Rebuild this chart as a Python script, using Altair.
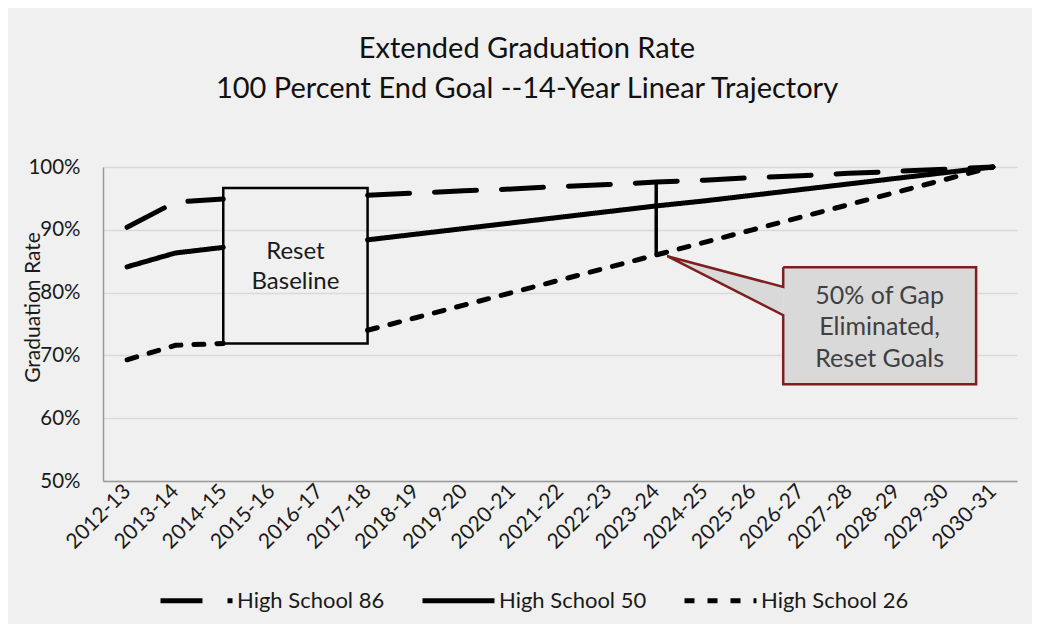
import altair as alt
import pandas as pd

# ---------------- data ----------------
years = ["2012-13", "2013-14", "2014-15", "2015-16", "2016-17", "2017-18",
         "2018-19", "2019-20", "2020-21", "2021-22", "2022-23", "2023-24",
         "2024-25", "2025-26", "2026-27", "2027-28", "2028-29", "2029-30",
         "2030-31"]

series_names = ["High School 86", "High School 50", "High School 26"]
hs86 = [90.4, 94.4, 94.9, None, None, 95.5, 95.85, 96.2, 96.5, 96.9, 97.2,
        97.6, 97.9, 98.3, 98.6, 99.0, 99.3, 99.65, 100.0]
hs50 = [84.1, 86.3, 87.2, None, None, 88.4, 89.3, 90.2, 91.1, 92.0, 92.9,
        93.8, 94.6, 95.5, 96.4, 97.3, 98.2, 99.1, 100.0]
hs26 = [69.3, 71.6, 71.9, None, None, 74.0, 76.0, 78.0, 80.0, 82.0, 84.0,
        86.0, 88.0, 90.0, 92.0, 94.0, 96.0, 98.0, 100.0]
series_values = [hs86, hs50, hs26]
dash_styles = [[42, 25], [1, 0], [10, 13]]

y_ticks = [50, 60, 70, 80, 90, 100]

# annotation: reset-baseline box (category index span, value span)
reset_x = [2, 5]
reset_y = [71.9, 96.65]
reset_lines = ["Reset", "Baseline"]

# annotation: gap bar at 2023-24
gap_year_index = 11
gap_y = [86.0, 97.6]

# annotation: callout box
callout_x = [13.64, 17.65]
callout_y = [65.4, 84.05]
callout_tip = [11.23, 85.8]
callout_base_y = [76.4, 80.9]
callout_lines = ["50% of Gap", "Eliminated,", "Reset Goals"]

# ---------------- build tables ----------------
rows = []
for name, vals in zip(series_names, series_values):
    seg = 0
    for i, v in enumerate(vals):
        if v is None:
            seg += 1
            continue
        rows.append({"idx": i, "school": name, "value": v, "part": f"{name}-{seg}"})
lines_df = pd.DataFrame(rows)

label_expr = "[" + ",".join(f"'{y}'" for y in years) + "][datum.value]"

FONT = "Lato"
xs = alt.Scale(domain=[-0.5, len(years) - 0.5], nice=False, zero=False)
y_scale = alt.Scale(domain=[50, 100], nice=False, zero=False)

x_enc = alt.X(
    "idx:Q",
    scale=xs,
    axis=alt.Axis(
        values=list(range(len(years))), labelExpr=label_expr, title=None,
        grid=False, ticks=False, labelAngle=-45, labelAlign="right",
        labelBaseline="middle", labelPadding=7, labelFlush=False,
        labelOverlap=False, labelBound=False, labelFont=FONT, labelFontSize=21,
        labelColor="#1a1a1a", domainColor="#9a9a9a", domainWidth=1.5,
    ),
)
y_enc = alt.Y(
    "value:Q", scale=y_scale,
    axis=alt.Axis(
        values=y_ticks, labelExpr="datum.value + '%'", title="Graduation Rate",
        titleFont=FONT, titleFontSize=21, titleFontWeight="normal",
        titleColor="#1a1a1a", titleX=-70, titleY=140, titleAngle=270,
        titleAlign="center", titleBaseline="middle",
        grid=True, gridColor="#d9d9d9", gridWidth=1.5, ticks=False,
        labelPadding=23, labelFont=FONT, labelFontSize=20.5, labelColor="#1a1a1a",
        domainColor="#9a9a9a", domainWidth=1.5,
    ),
)

lines = alt.Chart(lines_df).mark_line(
    color="black", strokeWidth=5, strokeCap="round", strokeJoin="round"
).encode(
    x=x_enc,
    y=y_enc,
    detail="part:N",
    strokeDash=alt.StrokeDash(
        "school:N",
        scale=alt.Scale(domain=series_names, range=dash_styles),
        legend=alt.Legend(
            title=None, orient="none", legendX=55, legendY=395,
            direction="horizontal", symbolType="stroke", symbolSize=5184,
            symbolStrokeWidth=5, symbolStrokeColor="black",
            labelFont=FONT, labelFontSize=22, labelColor="#1a1a1a",
            labelOffset=2, columnPadding=27, padding=0, labelLimit=400,
        ),
    ),
)

# reset baseline box
reset_df = pd.DataFrame([{"x0": reset_x[0], "x1": reset_x[1],
                          "y0": reset_y[0], "y1": reset_y[1],
                          "xm": (reset_x[0] + reset_x[1]) / 2,
                          "ym": (reset_y[0] + reset_y[1]) / 2,
                          "t": reset_lines}])
reset_box = alt.Chart(reset_df).mark_rect(
    fill="#f0f0f0", fillOpacity=0, stroke="black", strokeWidth=2.5
).encode(
    x=alt.X("x0:Q", scale=xs), x2="x1:Q",
    y=alt.Y("y0:Q", scale=y_scale), y2="y1:Q",
)
reset_label = alt.Chart(reset_df).mark_text(
    font=FONT, fontSize=24, color="#1a1a1a", lineHeight=30,
    align="center", baseline="middle", dy=-14
).encode(
    x=alt.X("xm:Q", scale=xs),
    y=alt.Y("ym:Q", scale=y_scale),
    text="t",
)

# gap bar
gap_df = pd.DataFrame([{"x": gap_year_index, "y0": gap_y[0], "y1": gap_y[1]}])
gap_bar = alt.Chart(gap_df).mark_rule(color="black", strokeWidth=3.5).encode(
    x=alt.X("x:Q", scale=xs),
    y=alt.Y("y0:Q", scale=y_scale),
    y2="y1:Q",
)

# callout
callout_df = pd.DataFrame([{"x0": callout_x[0], "x1": callout_x[1],
                            "y0": callout_y[0], "y1": callout_y[1],
                            "xm": (callout_x[0] + callout_x[1]) / 2,
                            "ym": (callout_y[0] + callout_y[1]) / 2,
                            "t": callout_lines}])
callout_fill = alt.Chart(callout_df).mark_rect(fill="#d9d9d9").encode(
    x=alt.X("x0:Q", scale=xs), x2="x1:Q",
    y=alt.Y("y0:Q", scale=y_scale), y2="y1:Q",
)
tri_df = pd.DataFrame([
    {"x": callout_tip[0], "lo": callout_tip[1], "hi": callout_tip[1]},
    {"x": callout_x[0], "lo": callout_base_y[0], "hi": callout_base_y[1]},
])
callout_tri = alt.Chart(tri_df).mark_area(color="#d9d9d9", opacity=1).encode(
    x=alt.X("x:Q", scale=xs),
    y=alt.Y("lo:Q", scale=y_scale),
    y2="hi:Q",
)
outline_pts = [
    (callout_x[0], callout_y[1]),
    (callout_x[0], callout_base_y[1]),
    (callout_tip[0], callout_tip[1]),
    (callout_x[0], callout_base_y[0]),
    (callout_x[0], callout_y[0]),
    (callout_x[1], callout_y[0]),
    (callout_x[1], callout_y[1]),
    (callout_x[0], callout_y[1]),
]
outline_df = pd.DataFrame([{"o": i, "x": p[0], "y": p[1]} for i, p in enumerate(outline_pts)])
callout_outline = alt.Chart(outline_df).mark_line(
    color="#7b1f1f", strokeWidth=2.5, strokeJoin="miter"
).encode(
    x=alt.X("x:Q", scale=xs),
    y=alt.Y("y:Q", scale=y_scale),
    order="o:Q",
)
callout_label = alt.Chart(callout_df).mark_text(
    font=FONT, fontSize=25, color="#404040", lineHeight=31.5,
    align="center", baseline="middle", dy=-30
).encode(
    x=alt.X("xm:Q", scale=xs),
    y=alt.Y("ym:Q", scale=y_scale),
    text="t",
)

chart = alt.layer(
    lines, reset_box, reset_label, gap_bar,
    callout_tri, callout_fill, callout_outline, callout_label,
).properties(
    width=914,
    height=314,
    autosize=alt.AutoSizeParams(type="none"),
    padding={"left": 95, "top": 159, "right": 15, "bottom": 143},
    title=alt.TitleParams(
        text=["Extended Graduation Rate",
              "100 Percent End Goal --14-Year Linear Trajectory"],
        font=FONT, fontSize=29, fontWeight="normal", color="#111111",
        lineHeight=40, anchor="middle", dx=-33, offset=53,
    ),
).configure(
    background="#f0f0f0",
    font=FONT,
).configure_view(
    strokeWidth=0
)

chart.save("out.html", embed_options={"renderer": "svg", "actions": False})
